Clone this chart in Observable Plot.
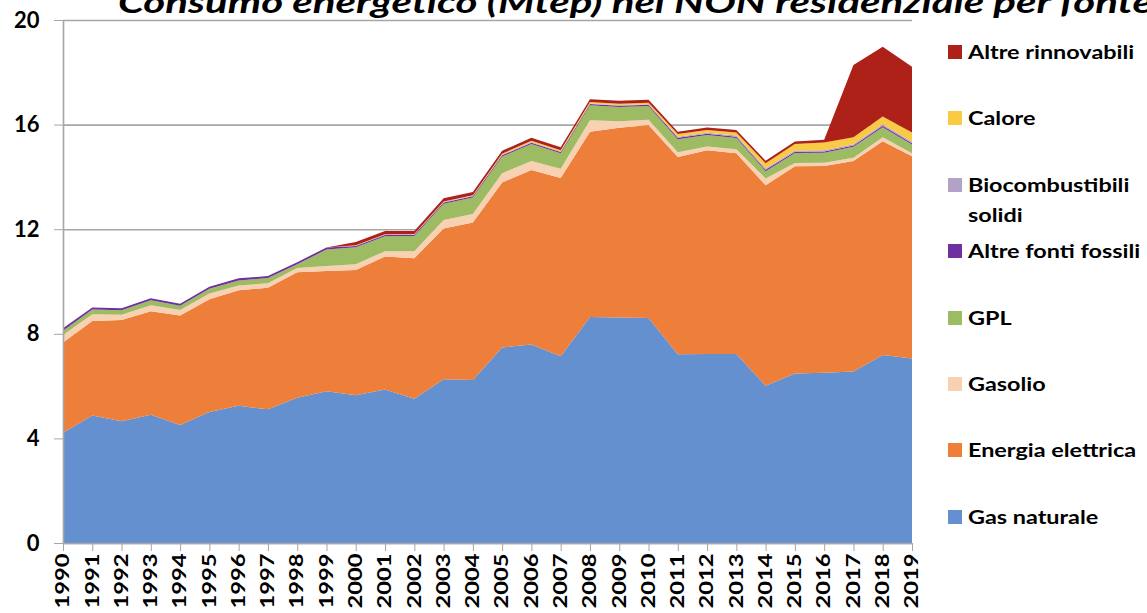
<!DOCTYPE html>
<html><head><meta charset="utf-8">
<script src="https://cdn.jsdelivr.net/npm/d3@7"></script>
<script src="https://cdn.jsdelivr.net/npm/@observablehq/plot@0.6"></script>
<style>
html,body{margin:0;padding:0;background:#fff;overflow:hidden;width:1147px;height:613px;}
#wrap{position:relative;width:1147px;height:613px;overflow:hidden;}
#overlay{position:absolute;left:0;top:0;pointer-events:none;}
</style></head><body><div id="wrap"></div>
<script>
const years = [1990,1991,1992,1993,1994,1995,1996,1997,1998,1999,2000,2001,2002,2003,2004,2005,2006,2007,2008,2009,2010,2011,2012,2013,2014,2015,2016,2017,2018,2019];
const gasNaturale = [4.22,4.88,4.66,4.90,4.51,5.01,5.25,5.11,5.55,5.80,5.65,5.87,5.52,6.26,6.23,7.48,7.59,7.14,8.64,8.62,8.60,7.22,7.23,7.23,6.01,6.48,6.51,6.56,7.19,7.06];
const energiaElettrica = [3.45,3.61,3.87,3.96,4.19,4.31,4.42,4.65,4.80,4.60,4.79,5.09,5.37,5.77,6.03,6.31,6.67,6.82,7.09,7.26,7.38,7.54,7.79,7.67,7.67,7.93,7.91,8.05,8.17,7.73];
const gasolio = [0.28,0.26,0.20,0.23,0.21,0.22,0.18,0.17,0.17,0.19,0.22,0.20,0.27,0.32,0.32,0.35,0.35,0.35,0.44,0.25,0.21,0.18,0.14,0.16,0.26,0.12,0.12,0.12,0.16,0.11];
const gpl = [0.17,0.18,0.17,0.19,0.16,0.18,0.19,0.20,0.14,0.63,0.65,0.57,0.58,0.62,0.63,0.64,0.65,0.59,0.57,0.54,0.52,0.50,0.44,0.43,0.28,0.38,0.38,0.42,0.38,0.34];
const altreFontiFossili = [0.09,0.08,0.08,0.08,0.08,0.08,0.08,0.08,0.08,0.08,0.05,0.05,0.05,0.05,0.05,0.05,0.05,0.05,0.05,0.05,0.05,0.06,0.05,0.05,0.05,0.05,0.05,0.05,0.06,0.05];
const biocombustibiliSolidi = [0,0,0,0,0,0,0,0,0,0,0.02,0.02,0.02,0.02,0.02,0.02,0.02,0.02,0.02,0.02,0.02,0.04,0.04,0.04,0.05,0.05,0.05,0.05,0.05,0.05];
const calore = [0,0,0,0,0,0,0,0,0,0,0.01,0.01,0.01,0.02,0.02,0.04,0.05,0.05,0.05,0.06,0.06,0.10,0.10,0.12,0.20,0.25,0.30,0.27,0.30,0.36];
const altreRinnovabili = [0,0,0,0,0,0,0,0,0,0,0.12,0.12,0.11,0.12,0.12,0.11,0.12,0.11,0.11,0.11,0.11,0.09,0.10,0.09,0.10,0.09,0.10,2.76,2.67,2.51];

const seriesNames = ["Gas naturale","Energia elettrica","Gasolio","GPL","Altre fonti fossili","Biocombustibili solidi","Calore","Altre rinnovabili"];
const seriesValues = [gasNaturale,energiaElettrica,gasolio,gpl,altreFontiFossili,biocombustibiliSolidi,calore,altreRinnovabili];
const seriesColors = ["#6490D0","#ED7F3A","#F7D1B2","#9DBB62","#7030A0","#B3A2C7","#F9CB45","#AD2119"];
const yTicks = [0,4,8,12,16,20];
const titleText = "Consumo energetico (Mtep) nel NON residenziale per fonte";
const legendLabels = [["Altre rinnovabili"],["Calore"],["Biocombustibili","solidi"],["Altre fonti fossili"],["GPL"],["Gasolio"],["Energia elettrica"],["Gas naturale"]];
const legendColors = ["#AD2119","#F9CB45","#B3A2C7","#7030A0","#9DBB62","#F7D1B2","#ED7F3A","#6490D0"];

const data = [];
seriesNames.forEach((s, i) => years.forEach((yr, j) => data.push({year: yr, series: s, value: seriesValues[i][j]})));

const axisGray = "#a6a6a6";
const chart = Plot.plot({
  width: 1147, height: 613,
  marginLeft: 63, marginRight: 235, marginTop: 20, marginBottom: 70,
  style: {fontFamily: "Lato, 'Open Sans', sans-serif", background: "#fff", color: "#000"},
  x: {domain: [1990, 2019]},
  y: {domain: [0, 20]},
  color: {domain: seriesNames, range: seriesColors},
  marks: [
    Plot.gridY(yTicks, {stroke: axisGray, strokeOpacity: 1, strokeWidth: 1.6}),
    Plot.areaY(data, {x: "year", y: "value", fill: "series", order: seriesNames}),
    Plot.ruleX([1990], {stroke: axisGray, strokeWidth: 1.6}),
    Plot.ruleY([0], {stroke: axisGray, strokeWidth: 1.6}),
    Plot.axisY(yTicks, {tickSize: 9, tickPadding: 15, stroke: axisGray, fill: "#000", fontSize: 22, fontWeight: "bold", label: null, tickFormat: d => String(d)}),
    Plot.axisX(years, {tickSize: 8, tickRotate: -90, tickPadding: 2, stroke: axisGray, fill: "#000", fontSize: 18, fontWeight: "bold", label: null, tickFormat: d => String(d)})
  ]
});
document.getElementById("wrap").appendChild(chart);

d3.select(chart).selectAll('g[aria-label="x-axis tick label"] text')
  .attr("textLength", 55).attr("lengthAdjust", "spacingAndGlyphs");

const ov = d3.select("#wrap").append("svg").attr("id", "overlay")
  .attr("width", 1147).attr("height", 613)
  .style("font-family", "Lato, 'Open Sans', sans-serif");

ov.append("text").attr("x", 118).attr("y", 13)
  .attr("font-size", 31).attr("font-weight", "bold").attr("font-style", "italic")
  .attr("textLength", 1035).attr("lengthAdjust", "spacingAndGlyphs")
  .text(titleText);

const rowsY = [52, 118, 185, 251, 318, 384, 450, 517];
legendLabels.forEach((lines, i) => {
  ov.append("rect").attr("x", 948).attr("y", rowsY[i] - 7).attr("width", 14).attr("height", 14).attr("fill", legendColors[i]);
  lines.forEach((ln, k) => {
    ov.append("text").attr("transform", `translate(968,${rowsY[i] + k * 30}) scale(1.2,1)`).attr("dy", "0.35em")
      .attr("font-size", 19.5).attr("font-weight", "bold").text(ln);
  });
});
</script></body></html>
